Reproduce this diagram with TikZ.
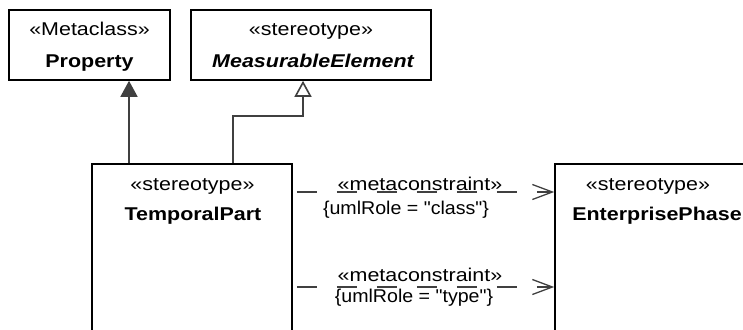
\documentclass[tikz,border=0pt]{standalone}
\usepackage{fontspec}
\setmainfont{Liberation Sans}[FakeStretch=1.16, Ligatures=TeXOff]
\newfontfamily\cstrfont{Liberation Sans}[FakeStretch=1.06, Ligatures=TeXOff]
\usetikzlibrary{arrows.meta}
\definecolor{linegray}{HTML}{404040}
\begin{document}
\begin{tikzpicture}[x=1pt,y=-1pt,
  umlbox/.style={draw=black, line width=1.6pt, inner sep=0pt},
  lbl/.style={anchor=base, inner sep=0pt, font=\fontsize{18.5}{20}\selectfont},
  cstr/.style={anchor=base, inner sep=0pt, font=\fontsize{18.5}{20}\cstrfont},
  nm/.style={anchor=base, inner sep=0pt, font=\fontsize{18.5}{20}\selectfont\bfseries},
  conn/.style={draw=linegray, line width=1.6pt},
  dep/.style={draw=linegray, line width=1.3pt, dash pattern=on 20pt off 20pt, dash phase=36pt,
    -{Straight Barb[length=20pt,width=15pt,line width=1.3pt]}},
]
\path[use as bounding box] (0,0) rectangle (743,329);
\clip (0,0) rectangle (743,329);

% boxes
\node[umlbox, minimum width=161, minimum height=70] (prop) at (89.5,45) {};
\node[umlbox, minimum width=240, minimum height=70] (me) at (311,45) {};
\node[umlbox, minimum width=200, minimum height=236] (tp) at (192,282) {};
\node[umlbox, minimum width=250, minimum height=236] (ep) at (680,282) {};

% texts
\node[lbl] (propS) at (89.5,36) {«Metaclass»};
\node[nm] (propN) at (89.5,67) {Property};
\node[lbl] (meS) at (311,36) {«stereotype»};
\node[nm, font=\fontsize{18.5}{20}\selectfont\bfseries\itshape] (meN) at (313,67) {MeasurableElement};
\node[lbl] (tpS) at (192.5,190) {«stereotype»};
\node[nm] (tpN) at (193,220) {TemporalPart};
\node[lbl] (epS) at (648,190) {«stereotype»};
\node[nm] (epN) at (657,220) {EnterprisePhase};

% generalization / association connectors
\coordinate (ax) at (129,0);
\coordinate (gx) at (233,0);
\coordinate (gb) at (303,116);
\draw[conn, -{Triangle[length=16pt,width=17pt]}] (tp.north -| ax) -- (prop.south -| ax);
\draw[conn, -{Triangle[open,length=16pt,width=17pt]}] (tp.north -| gx) |- (gb) -- (me.south -| gb);

% dependencies
\coordinate (d1) at (0,192);
\coordinate (d2) at (0,287);
\draw[dep] (tp.east |- d1) -- (ep.west |- d1);
\draw[dep] (tp.east |- d2) -- (ep.west |- d2);
\node[lbl] (c1a) at (420,190) {«metaconstraint»};
\node[cstr] (c1b) at (406,214) {\{umlRole = "class"\}};
\node[lbl] (c2a) at (420,281) {«metaconstraint»};
\node[cstr] (c2b) at (414,302) {\{umlRole = "type"\}};
\end{tikzpicture}
\end{document}
